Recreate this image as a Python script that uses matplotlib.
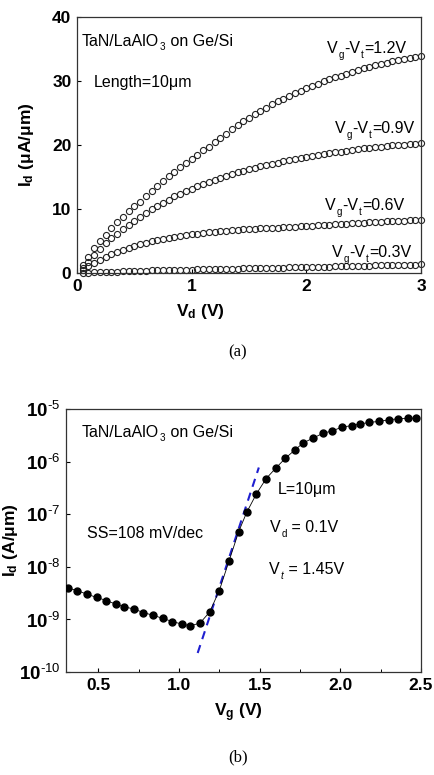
import matplotlib
matplotlib.use("Agg")
import matplotlib.pyplot as plt
import numpy as np
from matplotlib.ticker import FixedLocator, FixedFormatter

plt.rcParams['font.family'] = ['Liberation Sans', 'DejaVu Sans']
plt.rcParams['mathtext.fontset'] = 'custom'
plt.rcParams['mathtext.rm'] = 'Liberation Sans'
plt.rcParams['mathtext.it'] = 'Liberation Sans:italic'
plt.rcParams['mathtext.bf'] = 'Liberation Sans:bold'

# ---------------- (a) output characteristics ----------------
vd = [0.05, 0.10, 0.15, 0.20, 0.25, 0.30, 0.35, 0.40, 0.45, 0.50,
      0.55, 0.60, 0.65, 0.70, 0.75, 0.80, 0.85, 0.90, 0.95, 1.00,
      1.05, 1.10, 1.15, 1.20, 1.25, 1.30, 1.35, 1.40, 1.45, 1.50,
      1.55, 1.60, 1.65, 1.70, 1.75, 1.80, 1.85, 1.90, 1.95, 2.00,
      2.05, 2.10, 2.15, 2.20, 2.25, 2.30, 2.35, 2.40, 2.45, 2.50,
      2.55, 2.60, 2.65, 2.70, 2.75, 2.80, 2.85, 2.90, 2.95, 3.00]

id_12 = [1.3, 2.6, 3.9, 5.0, 6.0, 7.0, 8.0, 8.8, 9.7, 10.5,
         11.2, 12.0, 12.8, 13.6, 14.4, 15.2, 15.9, 16.6, 17.2, 17.9,
         18.5, 19.2, 19.8, 20.5, 21.2, 21.8, 22.5, 23.2, 23.8, 24.3,
         24.9, 25.4, 25.9, 26.4, 26.9, 27.3, 27.7, 28.1, 28.5, 28.9,
         29.3, 29.6, 30.0, 30.3, 30.6, 30.9, 31.2, 31.5, 31.7, 32.0,
         32.3, 32.5, 32.7, 32.9, 33.1, 33.3, 33.5, 33.7, 33.85, 34.0]

id_09 = [0.9, 1.8, 2.9, 3.8, 4.7, 5.5, 6.2, 6.9, 7.6, 8.2,
         8.8, 9.4, 10.0, 10.5, 11.0, 11.5, 12.0, 12.4, 12.8, 13.2,
         13.6, 14.0, 14.3, 14.6, 14.9, 15.2, 15.5, 15.8, 16.0, 16.3,
         16.5, 16.7, 16.9, 17.1, 17.3, 17.5, 17.7, 17.85, 18.0, 18.15,
         18.3, 18.45, 18.6, 18.75, 18.9, 19.0, 19.15, 19.3, 19.4, 19.5,
         19.6, 19.7, 19.8, 19.9, 20.0, 20.05, 20.1, 20.2, 20.25, 20.3]

id_06 = [0.5, 1.1, 1.6, 2.1, 2.6, 3.0, 3.35, 3.7, 4.0, 4.25,
         4.5, 4.75, 5.0, 5.2, 5.4, 5.55, 5.7, 5.85, 6.0, 6.1,
         6.2, 6.3, 6.4, 6.5, 6.6, 6.65, 6.7, 6.8, 6.85, 6.9,
         6.95, 7.0, 7.05, 7.1, 7.15, 7.2, 7.25, 7.3, 7.35, 7.4,
         7.45, 7.5, 7.55, 7.6, 7.65, 7.7, 7.75, 7.8, 7.85, 7.9,
         7.95, 8.0, 8.05, 8.1, 8.1, 8.15, 8.2, 8.25, 8.3, 8.3]

id_03 = [0.05, 0.10, 0.14, 0.18, 0.21, 0.24, 0.27, 0.30, 0.33, 0.36,
         0.39, 0.41, 0.44, 0.46, 0.48, 0.50, 0.52, 0.54, 0.56, 0.58,
         0.60, 0.62, 0.64, 0.66, 0.68, 0.70, 0.72, 0.74, 0.76, 0.78,
         0.80, 0.82, 0.84, 0.86, 0.88, 0.90, 0.92, 0.94, 0.96, 0.98,
         1.00, 1.02, 1.04, 1.06, 1.08, 1.10, 1.12, 1.14, 1.16, 1.18,
         1.20, 1.22, 1.24, 1.26, 1.28, 1.30, 1.32, 1.34, 1.36, 1.38]

curve_labels = ['1.2V', '0.9V', '0.6V', '0.3V']

# ---------------- (b) transfer characteristics ----------------
vg = [0.31, 0.37, 0.43, 0.49, 0.55, 0.61, 0.66, 0.72, 0.78, 0.84,
      0.90, 0.96, 1.02, 1.07, 1.13, 1.19, 1.25, 1.31, 1.37, 1.42,
      1.48, 1.54, 1.60, 1.66, 1.72, 1.77, 1.83, 1.89, 1.95, 2.01,
      2.07, 2.12, 2.18, 2.24, 2.30, 2.36, 2.42, 2.47]
log_id = [-8.40, -8.45, -8.52, -8.58, -8.64, -8.71, -8.76, -8.80, -8.87, -8.92,
          -8.98, -9.04, -9.09, -9.12, -9.07, -8.86, -8.45, -7.89, -7.33, -6.96,
          -6.61, -6.32, -6.12, -5.93, -5.77, -5.64, -5.55, -5.46, -5.41, -5.34,
          -5.31, -5.28, -5.25, -5.23, -5.20, -5.18, -5.17, -5.17]
id_b = [10.0 ** v for v in log_id]

ss_vg = [1.116, 1.495]
ss_id = [2.3e-10, 7.8e-7]

W, H = 434, 775
fig = plt.figure(figsize=(W / 100, H / 100), dpi=100)
renderer = fig.canvas.get_renderer()

def fx(px):
    return px / W

def fy(py):
    return 1 - py / H

def sub_label(x_px, base_px, parts, size=11.5, drop=5.0):
    """Text pieces laid out left to right; subscripts small and dropped below baseline."""
    x = x_px
    for txt, is_sub, *style in parts:
        fs = size * 0.62 if is_sub else size
        yb = base_px + (drop if is_sub else 0)
        t = fig.text(fx(x), fy(yb), txt, fontsize=fs, ha='left', va='baseline',
                     style=style[0] if style else 'normal')
        x += t.get_window_extent(renderer=renderer).width + 0.6

# ---- panel (a)
ax1 = fig.add_axes([fx(77), fy(273.3), fx(421) - fx(77), fy(17.3) - fy(273.3)])
for series in (id_12, id_09, id_06, id_03):
    ax1.plot(vd, series, linestyle='none', marker='o', markersize=4.4,
             markerfacecolor='none', markeredgecolor='#222222', markeredgewidth=0.8,
             clip_on=False)
ax1.set_xlim(0, 3)
ax1.set_ylim(0, 40)
ax1.xaxis.set_major_locator(FixedLocator([0, 1, 2, 3]))
ax1.yaxis.set_major_locator(FixedLocator([0, 10, 20, 30, 40]))
ax1.tick_params(direction='in', length=3, width=0.8, labelsize=12.5, pad=4)
for lab in ax1.get_xticklabels() + ax1.get_yticklabels():
    lab.set_fontweight('bold')
for sp in ax1.spines.values():
    sp.set_linewidth(0.9)
    sp.set_color('#333333')

fig.text(fx(200), fy(311), r'V$_\mathbf{d}$ (V)', fontsize=12.5, fontweight='bold',
         ha='center', va='center')
fig.text(fx(27), fy(145), r'I$_\mathbf{d}$ ($\mathbf{\mu}$A/$\mathbf{\mu}$m)', fontsize=12.5,
         fontweight='bold', ha='center', va='center', rotation=90)

sub_label(82, 46, [('TaN/LaAlO', False), ('3', True), (' on Ge/Si', False)], drop=4.0)
fig.text(fx(94), fy(83), 'Length=10μm', fontsize=11.5, ha='left', va='center')

label_pos = [(327, 53), (335, 133), (325, 210), (332, 257)]
for lab, (px, py) in zip(curve_labels, label_pos):
    sub_label(px, py, [('V', False), ('g', True), ('-V', False), ('t', True), ('=' + lab, False)])

fig.text(fx(238), fy(352), '(a)', fontsize=12, family='Liberation Serif',
         ha='center', va='center')

# ---- panel (b)
ax2 = fig.add_axes([fx(66), fy(672), fx(421) - fx(66), fy(409.3) - fy(672)])
ax2.plot(vg, id_b, color='black', linewidth=0.6, marker='o', markersize=5.0,
         markerfacecolor='black', markeredgecolor='black', zorder=3)
ax2.plot(ss_vg, ss_id, color='#1f1fd0', linestyle=(0, (4, 3)), linewidth=1.5, zorder=2)
ax2.set_yscale('log')
ax2.set_xlim(0.3, 2.5)
ax2.set_ylim(1e-10, 1e-5)
ax2.xaxis.set_major_locator(FixedLocator([0.5, 1.0, 1.5, 2.0, 2.5]))
ax2.xaxis.set_major_formatter(FixedFormatter(['0.5', '1.0', '1.5', '2.0', '2.5']))
ax2.xaxis.set_minor_locator(FixedLocator([0.75, 1.25, 1.75, 2.25]))
yt = [1e-10, 1e-9, 1e-8, 1e-7, 1e-6, 1e-5]
ax2.yaxis.set_major_locator(FixedLocator(yt))
ax2.yaxis.set_major_formatter(FixedFormatter(
    [r'$\mathbf{10^{\text{-%d}}}$' % e for e in range(10, 4, -1)]))
ax2.yaxis.set_minor_locator(FixedLocator([]))
ax2.tick_params(which='major', direction='in', length=3, width=0.8, labelsize=13.5, pad=4)
ax2.tick_params(which='minor', direction='in', length=2, width=0.7)
for lab in ax2.get_xticklabels():
    lab.set_fontweight('bold')
    lab.set_fontsize(12.5)
for sp in ax2.spines.values():
    sp.set_linewidth(0.9)
    sp.set_color('#333333')

fig.text(fx(238), fy(713), r'V$_\mathbf{g}$ (V)', fontsize=12.5, fontweight='bold',
         ha='center', va='center')
fig.text(fx(10), fy(540), r'I$_\mathbf{d}$ (A/$\mathbf{\mu}$m)', fontsize=12.5,
         fontweight='bold', ha='center', va='center', rotation=90)

sub_label(82, 437, [('TaN/LaAlO', False), ('3', True), (' on Ge/Si', False)], drop=4.0)
fig.text(fx(278), fy(490), 'L=10μm', fontsize=11.5, ha='left', va='center')
sub_label(270, 532, [('V', False), ('d', True), (' = 0.1V', False)])
sub_label(269, 574, [('V', False), ('t', True, 'italic'), (' = 1.45V', False)])
fig.text(fx(87), fy(534), 'SS=108 mV/dec', fontsize=11.5, ha='left', va='center')

fig.text(fx(238), fy(757), '(b)', fontsize=12, family='Liberation Serif',
         ha='center', va='center')

fig.savefig('out.png', dpi=100)
